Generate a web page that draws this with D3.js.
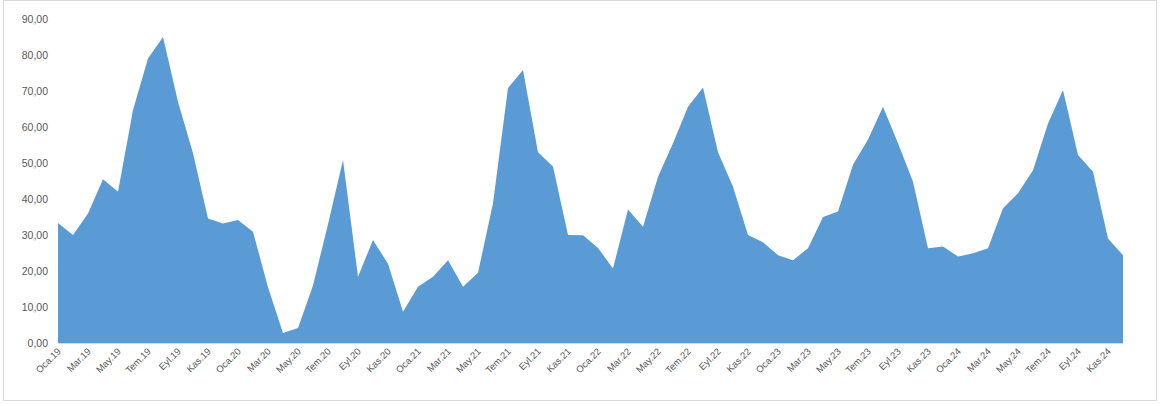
<!DOCTYPE html>
<html><head><meta charset="utf-8">
<script src="https://cdn.jsdelivr.net/npm/d3@7"></script>
<style>body{margin:0;background:#fff;}svg{display:block;font-family:"Open Sans","Noto Sans",sans-serif;}</style>
</head><body><svg id="c" width="1166" height="405"></svg>
<script>
const months = ["Oca","Şub","Mar","Nis","May","Haz","Tem","Ağu","Eyl","Eki","Kas","Ara"];
const years = ["19","20","21","22","23","24"];
const categories = [];
years.forEach(y => months.forEach(m => categories.push(m + "." + y)));
const values = [
  33.3, 30.0, 36.0, 45.5, 42.0, 64.7, 79.0, 85.0, 67.0, 52.7, 34.6, 33.2,
  34.2, 30.9, 15.5, 2.8, 4.2, 16.0, 33.0, 50.8, 18.4, 28.6, 22.0, 8.7,
  15.6, 18.4, 23.0, 15.6, 19.5, 38.8, 70.8, 75.8, 53.0, 49.0, 30.0, 29.9,
  26.4, 20.7, 37.1, 32.3, 46.2, 55.5, 65.6, 71.0, 53.0, 43.4, 30.0, 28.0,
  24.4, 23.0, 26.3, 35.0, 36.5, 49.5, 56.5, 65.6, 55.5, 44.8, 26.3, 26.8,
  24.0, 24.9, 26.3, 37.4, 41.6, 48.0, 61.0, 70.3, 52.2, 47.6, 29.0, 24.4
];
const yTicks = [0,10,20,30,40,50,60,70,80,90];
const tickLabels = categories.filter((d,i) => i % 2 === 0);

const svg = d3.select("#c");
svg.append("rect").attr("x",3.5).attr("y",0.5).attr("width",1153).attr("height",400)
  .attr("fill","#fff").attr("stroke","#d9d9d9");

const x = d3.scalePoint().domain(categories).range([58,1123]);
const y = d3.scaleLinear().domain([0,90]).range([343,19]);

const area = d3.area().x(d => x(d.c)).y0(y(0)).y1(d => y(d.v));
const data = categories.map((c,i) => ({c, v: values[i]}));
svg.append("path").datum(data).attr("d", area).attr("fill","#5b9bd5");

const yAxis = svg.append("g").attr("transform","translate(48,0)")
  .call(d3.axisLeft(y).tickValues(yTicks).tickSize(0).tickPadding(0)
    .tickFormat(d => d3.format(".2f")(d).replace(".", ",")));
yAxis.select(".domain").remove();
yAxis.selectAll("text").attr("fill","#595959").attr("font-size","10.5px");

const xAxis = svg.append("g").attr("transform","translate(0,343)")
  .call(d3.axisBottom(x).tickValues(tickLabels).tickSize(0).tickPadding(0));
xAxis.select(".domain").attr("stroke","#d9d9d9");
xAxis.selectAll("text").attr("fill","#595959").attr("font-size","9.5px")
  .attr("text-anchor","end").attr("dy",null).attr("y",0)
  .attr("transform","translate(3,9) rotate(-45)");
</script></body></html>
